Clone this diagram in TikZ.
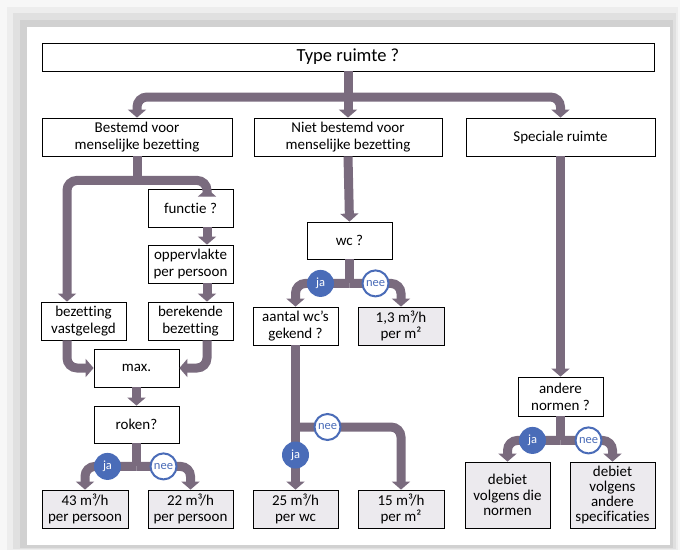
\documentclass[tikz,border=0pt]{standalone}
\usepackage{fontspec}
\setmainfont{Carlito}[Ligatures={NoCommon}]
\usepackage{xcolor}
\usepackage{tikz}
\usetikzlibrary{
arrows.meta,
positioning,
calc
}
\definecolor{pipegray}{HTML}{7A6B7E}
\definecolor{jablue}{HTML}{4A6CB8}
\definecolor{resgray}{HTML}{ECEAEE}

\begin{document}
\begin{tikzpicture}[
  x=1pt, y=-1pt,
  >={Triangle[width=18pt,length=8pt]},
  every node/.style={font=\fontsize{15}{16.8}\selectfont},
  box/.style={draw, line width=0.8pt, fill=white,
              minimum width=85, minimum height=38,
              align=center, inner sep=1pt},
  result/.style={box, fill=resgray},
  pipe/.style={line width=9pt, pipegray, rounded corners=10pt},
  yesbadge/.style={circle, fill=jablue, text=white, inner sep=0pt,
                   minimum size=27, font=\fontsize{12.5}{14}\selectfont},
  nobadge/.style={circle, draw=jablue, line width=2pt, fill=white,
                  text=jablue, inner sep=0pt, minimum size=26,
                  font=\fontsize{12.5}{14}\selectfont}
]
\useasboundingbox (0,0) rectangle (680,550);

%% Card with shadow
\fill[gray!6]  (0,0)   rectangle (680,550);
\fill[gray!14] (7,7)   rectangle (678,550);
\fill[gray!24] (13,13) rectangle (676,549);
\fill[gray!36] (20,20) rectangle (673,548);
\fill[white]   (27,27) rectangle (670,545);

%% Title
\node[box, minimum width=612, minimum height=28,
      font=\fontsize{18.5}{21}\selectfont] (title) at (348,57) {Type ruimte ?};

%% Kinds of room
\node[box, minimum width=190] (bestemd) at (137,137)
  {Bestemd voor\\menselijke bezetting};
\node[box, minimum width=188] (niet) at (348,137)
  {Niet bestemd voor\\menselijke bezetting};
\node[box, minimum width=189] (special) at (560.5,137) {Speciale ruimte};

%% Left column
\node[box] (functie) at (190.5,208) {functie ?};
\node[box] (opp)     at (190.5,264) {oppervlakte\\per persoon};
\node[box] (bezet)   at (83.5,321)  {bezetting\\vastgelegd};
\node[box] (bereken) at (190.5,321) {berekende\\bezetting};
\node[box] (max)     at (136.5,368) {max.};
\node[box, minimum height=37] (roken) at (136.5,424.5) {roken?};
\node[result, minimum width=86] (r43) at (85,509)   {43 m³/h\\per persoon};
\node[result] (r22) at (190.5,509) {22 m³/h\\per persoon};

%% Middle column
\node[box, minimum height=37] (wc) at (349.5,240.5) {wc ?};
\node[box] (aantal) at (295.5,326) {aantal wc’s\\gekend ?};
\node[result, minimum width=86] (r13) at (401,326) {1,3 m³/h\\per m²};
\node[result] (r25) at (295.5,509) {25 m³/h\\per wc};
\node[result, minimum width=86] (r15) at (401,509) {15 m³/h\\per m²};

%% Right column
\node[box, minimum height=39] (andere) at (560.5,396.5) {andere\\normen ?};
\node[result, minimum height=66, font=\fontsize{15}{15.3}\selectfont]
  (die) at (507.5,495) {debiet\\volgens die\\normen};
\node[result, minimum height=66, font=\fontsize{15}{14.8}\selectfont]
  (spec) at (612.5,495) {debiet\\volgens\\andere\\specificaties};

%% Pipes from the title
\draw[pipe] (title.south) -- (348,97) coordinate (fork0);
\draw[pipe,->] (fork0) -| (bestemd.north);
\draw[pipe,->] (fork0) -- (niet.north);
\draw[pipe,->] (fork0) -| (special.north);

%% Pipes, left column
\coordinate (lcol) at (67,0);
\coordinate (rcol) at (207,0);
\draw[pipe] (bestemd.south) -- ++(0,24) coordinate (fork1);
\draw[pipe,->] (fork1) -| (lcol |- bezet.north);
\draw[pipe,->] (fork1) -| (rcol |- functie.north);
\draw[pipe,->] (rcol |- functie.south) -- (rcol |- opp.north);
\draw[pipe,->] (rcol |- opp.south) -- (rcol |- bereken.north);
\draw[pipe,->] (lcol |- bezet.south) |- (max.west);
\draw[pipe,->] (rcol |- bereken.south) |- (max.east);
\draw[pipe,->] (max.south) -- (roken.north);
\draw[pipe] (roken.south) -- ++(0,23) coordinate (fork2);
\draw[pipe,->] (fork2) -| (r43.north);
\draw[pipe,->] (fork2) -| (r22.north);
\node[yesbadge] (ja1)  at ($(fork2)+(-29,0)$) {ja};
\node[nobadge]  (nee1) at ($(fork2)+(27,0)$)  {nee};

%% Pipes, middle column
\draw[pipe,->] (niet.south) -- (wc.north);
\draw[pipe] (wc.south) -- ++(0,24) coordinate (fork3);
\draw[pipe,->] (fork3) -| (aantal.north);
\draw[pipe,->] (fork3) -| (r13.north);
\draw[pipe,->] (aantal.south) -- (r25.north);
\coordinate (fork4) at (aantal.south |- 0,427);
\draw[pipe,->] (fork4) -| (r15.north);
\node[yesbadge] (ja2)  at ($(fork3)+(-29,0)$) {ja};
\node[nobadge]  (nee2) at ($(fork3)+(26,0)$)  {nee};
\node[nobadge]  (nee3) at ($(fork4)+(32,0)$)  {nee};
\node[yesbadge] (ja3)  at ($(fork4)+(0,28)$)  {ja};

%% Pipes, right column
\draw[pipe,->] (special.south) -- (andere.north);
\draw[pipe] (andere.south) -- ++(0,24) coordinate (fork5);
\draw[pipe,->] (fork5) -| (die.north);
\draw[pipe,->] (fork5) -| (spec.north);
\node[yesbadge] (ja4)  at ($(fork5)+(-28,0)$) {ja};
\node[nobadge]  (nee4) at ($(fork5)+(28,0)$)  {nee};

\end{tikzpicture}
\end{document}
